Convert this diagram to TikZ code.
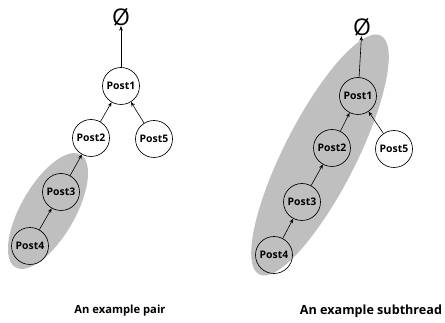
\documentclass[tikz,border=0pt]{standalone}
\usepackage{fontspec}
\setmainfont{Open Sans}
\usetikzlibrary{arrows.meta}
\begin{document}
\begin{tikzpicture}[x=1pt,y=-1pt,
  post/.style={circle,draw=black,line width=0.65pt,fill=white,minimum size=37pt,inner sep=0pt,font=\fontsize{10.4}{12}\selectfont\bfseries},
  tpost/.style={post,fill=none},
  edge/.style={line width=0.6pt,-{Stealth[length=4.5pt,width=3.6pt]}},
  hl/.style={fill=black!25},
  captext/.style={font=\fontsize{11.2}{13}\selectfont\bfseries},
  emptyset/.style={font=\fontsize{23}{24}\selectfont,inner sep=0pt}]
\useasboundingbox (0,0) rectangle (445,323);
% left
\fill[hl,rotate around={60:(48,211)}] (48,211) ellipse [x radius=65,y radius=27];
\node[emptyset] (le) at (121,17) {Ø};
\node[post] (l1) at (121,86) {Post1};
\node[post] (l2) at (91,138) {Post2};
\node[post] (l5) at (154,139) {Post5};
\node[tpost] (l3) at (61,192) {Post3};
\node[tpost] (l4) at (30,246) {Post4};
\draw[edge] (l1) -- (le);
\draw[edge] (l2) -- (l1);
\draw[edge] (l5) -- (l1);
\draw[edge] (l3) -- (l2);
\draw[edge] (l4) -- (l3);
\node[captext] (lc) at (120,311) {An example pair};
% right
\fill[hl,rotate around={63:(320,155)}] (320,155) ellipse [x radius=134,y radius=36];
\node[emptyset] (re) at (362,27) {Ø};
\node[tpost] (r1) at (358,96) {Post1};
\node[tpost] (r2) at (332,148) {Post2};
\node[post] (r5) at (394,149) {Post5};
\node[tpost] (r3) at (302,202) {Post3};
\node[tpost] (r4) at (274,255) {Post4};
\draw[edge] (r1) -- (re);
\draw[edge] (r2) -- (r1);
\draw[edge] (r5) -- (r1);
\draw[edge] (r3) -- (r2);
\draw[edge] (r4) -- (r3);
\node[captext,font=\fontsize{12.6}{14}\selectfont\bfseries] (rc) at (371,311) {An example subthread};
\end{tikzpicture}
\end{document}
